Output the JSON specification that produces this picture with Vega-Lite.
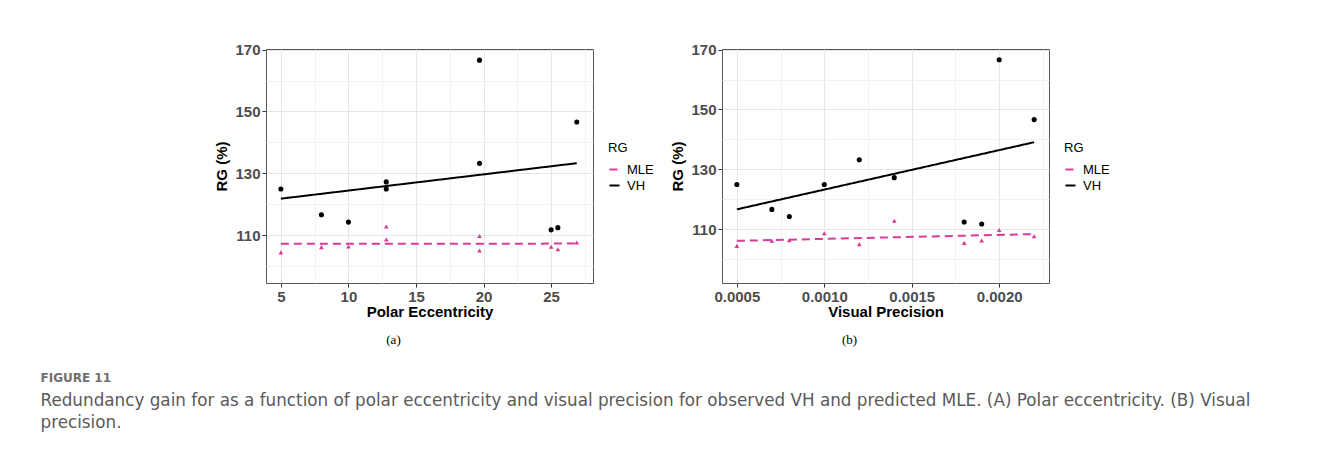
{
  "$schema": "https://vega.github.io/schema/vega-lite/v6.json",
  "background": "white",
  "padding": {"left": 40, "top": 42, "right": 0, "bottom": 0},
  "datasets": {
    "rg": [
      {"ecc": 5, "prec": 0.0005, "group": "VH", "rg": 124.9},
      {"ecc": 8, "prec": 0.0007, "group": "VH", "rg": 116.6},
      {"ecc": 10, "prec": 0.0008, "group": "VH", "rg": 114.2},
      {"ecc": 12.8, "prec": 0.001, "group": "VH", "rg": 124.9},
      {"ecc": 12.8, "prec": 0.0014, "group": "VH", "rg": 127.2},
      {"ecc": 19.7, "prec": 0.0012, "group": "VH", "rg": 133.2},
      {"ecc": 19.7, "prec": 0.002, "group": "VH", "rg": 166.6},
      {"ecc": 25, "prec": 0.0019, "group": "VH", "rg": 111.7},
      {"ecc": 25.5, "prec": 0.0018, "group": "VH", "rg": 112.4},
      {"ecc": 26.9, "prec": 0.0022, "group": "VH", "rg": 146.6},
      {"ecc": 5, "prec": 0.0005, "group": "MLE", "rg": 104.4},
      {"ecc": 8, "prec": 0.0007, "group": "MLE", "rg": 106.1},
      {"ecc": 10, "prec": 0.0008, "group": "MLE", "rg": 106.3},
      {"ecc": 12.8, "prec": 0.001, "group": "MLE", "rg": 108.6},
      {"ecc": 12.8, "prec": 0.0014, "group": "MLE", "rg": 112.8},
      {"ecc": 19.7, "prec": 0.0012, "group": "MLE", "rg": 105.0},
      {"ecc": 19.7, "prec": 0.002, "group": "MLE", "rg": 109.7},
      {"ecc": 25, "prec": 0.0019, "group": "MLE", "rg": 106.2},
      {"ecc": 25.5, "prec": 0.0018, "group": "MLE", "rg": 105.4},
      {"ecc": 26.9, "prec": 0.0022, "group": "MLE", "rg": 107.6}
    ]
  },
  "data": {"name": "rg"},
  "title": {
    "text": "FIGURE 11",
    "subtitle": ["Redundancy gain for as a function of polar eccentricity and visual precision for observed VH and predicted MLE. (A) Polar eccentricity. (B) Visual", "precision."],
    "orient": "bottom",
    "anchor": "start",
    "frame": "bounds",
    "font": "DejaVu Sans",
    "fontSize": 12,
    "fontWeight": "bold",
    "color": "#707070",
    "subtitleFont": "DejaVu Sans",
    "subtitleFontSize": 16.8,
    "subtitleColor": "#5a5a5a",
    "subtitleLineHeight": 22,
    "subtitlePadding": 8,
    "offset": 25,
    "dx": -174
  },
  "spacing": 15,
  "resolve": {
    "scale": {"x": "independent", "y": "independent", "color": "independent", "strokeDash": "independent"},
    "legend": {"color": "independent", "strokeDash": "independent"}
  },
  "hconcat": [
    {
      "width": 327,
      "height": 234,
      "title": {"text": "(a)", "orient": "bottom", "frame": "group", "anchor": "middle", "font": "Liberation Serif", "fontSize": 13, "fontWeight": "normal", "color": "#000000", "dx": -36, "offset": 15},
      "encoding": {
        "x": {"field": "ecc", "type": "quantitative", "title": "Polar Eccentricity",
          "scale": {"domain": [3.9, 28.1], "nice": false, "zero": false},
          "axis": {"values": [5, 7.5, 10, 12.5, 15, 17.5, 20, 22.5, 25, 27.5],
            "labelOpacity": {"condition": {"test": "indexof([5,10,15,20,25], datum.value) >= 0", "value": 1}, "value": 0},
            "gridColor": {"condition": {"test": "indexof([5,10,15,20,25], datum.value) >= 0", "value": "#e6e6e6"}, "value": "#f2f2f2"},
            "tickOpacity": {"condition": {"test": "indexof([5,10,15,20,25], datum.value) >= 0", "value": 1}, "value": 0}}},
        "y": {"field": "rg", "type": "quantitative", "title": "RG (%)",
          "scale": {"domain": [94.5, 170.2], "nice": false, "zero": false},
          "axis": {"values": [100, 110, 120, 130, 140, 150, 160, 170],
            "labelOpacity": {"condition": {"test": "indexof([110,130,150,170], datum.value) >= 0", "value": 1}, "value": 0},
            "gridColor": {"condition": {"test": "indexof([110,130,150,170], datum.value) >= 0", "value": "#e6e6e6"}, "value": "#f2f2f2"},
            "tickOpacity": {"condition": {"test": "indexof([110,130,150,170], datum.value) >= 0", "value": 1}, "value": 0}}}
      },
      "layer": [
        {
          "transform": [{"filter": "datum.group === 'VH'"}],
          "mark": {"type": "point", "shape": "circle", "filled": true, "size": 26, "opacity": 1, "color": "#000000"}
        },
        {
          "transform": [{"filter": "datum.group === 'MLE'"}],
          "mark": {"type": "point", "shape": "triangle-up", "filled": true, "size": 22, "opacity": 1, "color": "#d93a96"}
        },
        {
          "transform": [{"regression": "rg", "on": "ecc", "groupby": ["group"]}],
          "mark": {"type": "line", "strokeWidth": 2},
          "encoding": {
            "color": {"field": "group", "type": "nominal", "title": "RG", "scale": {"domain": ["MLE", "VH"], "range": ["#d93a96", "#000000"]},
              "legend": {"orient": "none", "legendX": 342, "legendY": 93}},
            "strokeDash": {"field": "group", "type": "nominal", "title": "RG", "scale": {"domain": ["MLE", "VH"], "range": [[8, 5], [1, 0]]},
              "legend": {"orient": "none", "legendX": 342, "legendY": 93}}
          }
        }
      ]
    },
    {
      "width": 327,
      "height": 234,
      "title": {"text": "(b)", "orient": "bottom", "frame": "group", "anchor": "middle", "font": "Liberation Serif", "fontSize": 13, "fontWeight": "normal", "color": "#000000", "dx": -36, "offset": 15},
      "encoding": {
        "x": {"field": "prec", "type": "quantitative", "title": "Visual Precision",
          "scale": {"domain": [0.000415, 0.002285], "nice": false, "zero": false},
          "axis": {"values": [0.0005, 0.00075, 0.001, 0.00125, 0.0015, 0.00175, 0.002, 0.00225], "format": ".4f",
            "labelOpacity": {"condition": {"test": "indexof([0.0005,0.001,0.0015,0.002], datum.value) >= 0", "value": 1}, "value": 0},
            "gridColor": {"condition": {"test": "indexof([0.0005,0.001,0.0015,0.002], datum.value) >= 0", "value": "#e6e6e6"}, "value": "#f2f2f2"},
            "tickOpacity": {"condition": {"test": "indexof([0.0005,0.001,0.0015,0.002], datum.value) >= 0", "value": 1}, "value": 0}}},
        "y": {"field": "rg", "type": "quantitative", "title": "RG (%)",
          "scale": {"domain": [92, 170.2], "nice": false, "zero": false},
          "axis": {"values": [100, 110, 120, 130, 140, 150, 160, 170],
            "labelOpacity": {"condition": {"test": "indexof([110,130,150,170], datum.value) >= 0", "value": 1}, "value": 0},
            "gridColor": {"condition": {"test": "indexof([110,130,150,170], datum.value) >= 0", "value": "#e6e6e6"}, "value": "#f2f2f2"},
            "tickOpacity": {"condition": {"test": "indexof([110,130,150,170], datum.value) >= 0", "value": 1}, "value": 0}}}
      },
      "layer": [
        {
          "transform": [{"filter": "datum.group === 'VH'"}],
          "mark": {"type": "point", "shape": "circle", "filled": true, "size": 26, "opacity": 1, "color": "#000000"}
        },
        {
          "transform": [{"filter": "datum.group === 'MLE'"}],
          "mark": {"type": "point", "shape": "triangle-up", "filled": true, "size": 22, "opacity": 1, "color": "#d93a96"}
        },
        {
          "transform": [{"regression": "rg", "on": "prec", "groupby": ["group"]}],
          "mark": {"type": "line", "strokeWidth": 2},
          "encoding": {
            "color": {"field": "group", "type": "nominal", "title": "RG", "scale": {"domain": ["MLE", "VH"], "range": ["#d93a96", "#000000"]},
              "legend": {"orient": "none", "legendX": 342, "legendY": 93}},
            "strokeDash": {"field": "group", "type": "nominal", "title": "RG", "scale": {"domain": ["MLE", "VH"], "range": [[8, 5], [1, 0]]},
              "legend": {"orient": "none", "legendX": 342, "legendY": 93}}
          }
        }
      ]
    }
  ],
  "config": {
    "view": {"stroke": "#555555", "strokeWidth": 1},
    "font": "Liberation Sans",
    "axis": {
      "domain": false,
      "grid": true,
      "gridWidth": 1,
      "tickColor": "#333333",
      "tickSize": 4,
      "labelFont": "Liberation Sans",
      "labelFontSize": 15,
      "labelFontWeight": "bold",
      "labelColor": "#4d4d4d",
      "labelPadding": 2,
      "labelFlush": false,
      "labelOverlap": false,
      "titleFont": "Liberation Sans",
      "titleFontSize": 15,
      "titleFontWeight": "bold",
      "titleColor": "#000000"
    },
    "axisX": {"titlePadding": 0},
    "axisY": {"titlePadding": 5},
    "legend": {
      "symbolType": "stroke",
      "symbolSize": 100,
      "symbolStrokeWidth": 2,
      "titleFont": "Liberation Sans",
      "titleFontSize": 13,
      "titleFontWeight": "normal",
      "titleColor": "#000000",
      "titlePadding": 8,
      "labelFont": "Liberation Sans",
      "labelFontSize": 13,
      "labelColor": "#000000",
      "labelOffset": 6,
      "rowPadding": 2,
      "padding": 0
    }
  }
}
